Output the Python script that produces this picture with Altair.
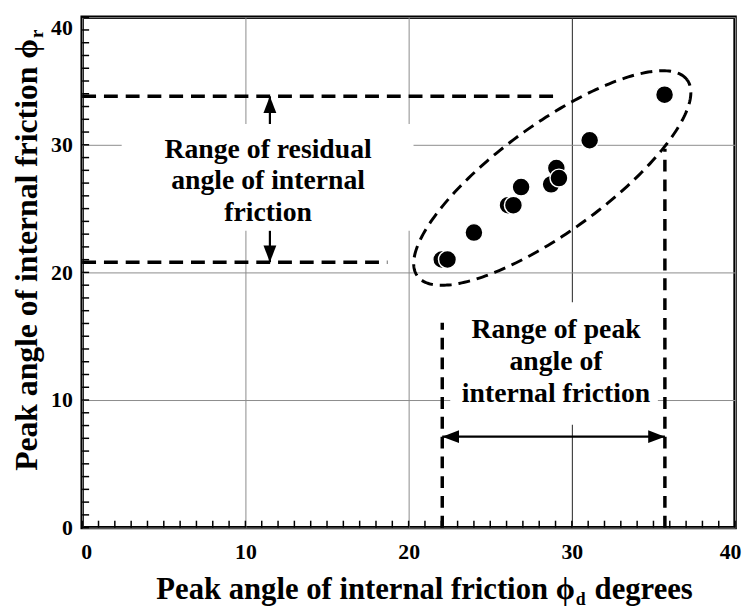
import altair as alt
import pandas as pd
import numpy as np

# ---------------- data ----------------
pt_x = [29.05, 28.73, 29.21, 35.68, 31.09, 26.89, 26.09, 26.42, 24.00, 22.03, 22.38]
pt_y = [28.18, 26.90, 27.39, 33.93, 30.36, 26.69, 25.27, 25.27, 23.12, 21.01, 21.01]

major_ticks = [0, 10, 20, 30, 40]
minor_ticks = list(range(0, 41))

# residual-angle range (horizontal dashed guides)
res_y = [33.8, 20.8]
res_x_end = [29.2, 18.7]
res_arrow_x = 11.5
res_arrow_from = [31.63, 23.26]

# peak-angle range (vertical dashed guides)
peak_x = [22.06, 35.7]
peak_y_end = [16.05, 29.7]
peak_arrow_y = 7.13

# annotation text
res_lines = ["Range of residual", "angle of internal", "friction"]
res_text_x = 11.39
res_text_y = [29.0, 26.51, 24.03]
peak_lines = ["Range of peak", "angle of", "internal friction"]
peak_text_x = 29.03
peak_text_y = [14.88, 12.36, 9.84]

# white boxes behind text (gridline gaps)
box_x1 = [2.42, 22.55]
box_x2 = [20.3, 35.27]
box_y1 = [23.26, 8.06]
box_y2 = [31.63, 17.67]

# ellipse (centre in data units, semi-axes in pixels, tilt in degrees)
ell_cx, ell_cy = 28.8, 27.4
ell_a, ell_b, ell_deg = 168.6, 54.4, 36.0

W, H = 660, 516
XMAX = YMAX = 40
FONT = "Liberation Serif"

xsc = alt.Scale(domain=[0, XMAX], nice=False, zero=False)
ysc = alt.Scale(domain=[0, YMAX], nice=False, zero=False)

px_x = W / XMAX
px_y = H / YMAX
t = np.linspace(0, 2 * np.pi, 241)
th = np.deg2rad(ell_deg)
ex = ell_cx + (ell_a * np.cos(t) * np.cos(th) - ell_b * np.sin(t) * np.sin(th)) / px_x
ey = ell_cy + (ell_a * np.cos(t) * np.sin(th) + ell_b * np.sin(t) * np.cos(th)) / px_y
ell_df = pd.DataFrame({"x": ex, "y": ey, "i": np.arange(len(t))})

grid_color = {"condition": {"test": "datum.value === 30", "value": "#222222"}, "value": "#8c8c8c"}
x_label_offset = {"condition": [{"test": "datum.value === 0", "value": 4},
                                {"test": "datum.value === 40", "value": -5}], "value": 0}
y_label_baseline = {"condition": {"test": "datum.value === 40", "value": "top"}, "value": "middle"}

x_axis = alt.Axis(values=major_ticks, title=None, grid=True, gridColor=grid_color, gridWidth=1,
                  ticks=False, domain=False, labelFont=FONT, labelFontSize=22,
                  labelFontWeight="bold", labelColor="black", labelPadding=14,
                  labelFlush=False, labelOffset=x_label_offset)
y_axis = alt.Axis(values=major_ticks, title=None, grid=True, gridColor="#8c8c8c", gridWidth=1,
                  ticks=False, domain=False, labelFont=FONT, labelFontSize=22,
                  labelFontWeight="bold", labelColor="black", labelPadding=10, labelFlush=False,
                  labelBaseline=y_label_baseline)

def X(f):
    return alt.X(f, scale=xsc, axis=x_axis)

def Y(f):
    return alt.Y(f, scale=ysc, axis=y_axis)

boxes = alt.Chart(pd.DataFrame({"x1": box_x1, "x2": box_x2, "y1": box_y1, "y2": box_y2})).mark_rect(
    fill="white", strokeWidth=0).encode(x=X("x1:Q"), x2="x2:Q", y=Y("y1:Q"), y2="y2:Q")

tick_df = pd.DataFrame({"t": minor_ticks})
xticks = alt.Chart(tick_df).mark_rule(color="black", strokeWidth=1.5).encode(
    x=X("t:Q"), y=alt.value(H), y2=alt.value(H - 7))
yticks = alt.Chart(tick_df).mark_rule(color="black", strokeWidth=1.5).encode(
    y=Y("t:Q"), x=alt.value(0), x2=alt.value(7))

hdash = alt.Chart(pd.DataFrame({"y": res_y, "x1": [0, 0], "x2": res_x_end})).mark_rule(
    color="black", strokeWidth=3.5, strokeDash=[14, 8]).encode(x=X("x1:Q"), x2="x2:Q", y=Y("y:Q"))
vdash = alt.Chart(pd.DataFrame({"x": peak_x, "y1": [0, 0], "y2": peak_y_end})).mark_rule(
    color="black", strokeWidth=3.5, strokeDash=[12, 8]).encode(x=X("x:Q"), y=Y("y1:Q"), y2="y2:Q")

ellipse = alt.Chart(ell_df).mark_line(color="black", strokeWidth=3, strokeDash=[12, 7]).encode(
    x=X("x:Q"), y=Y("y:Q"), order="i:Q")

arrow_v = alt.Chart(pd.DataFrame({"x": [res_arrow_x] * 2, "y1": res_arrow_from, "y2": res_y})).mark_rule(
    color="black", strokeWidth=2.2).encode(x=X("x:Q"), y=Y("y1:Q"), y2="y2:Q")
arrow_h = alt.Chart(pd.DataFrame({"y": [peak_arrow_y], "x1": [peak_x[0]], "x2": [peak_x[1]]})).mark_rule(
    color="black", strokeWidth=2.2).encode(x=X("x1:Q"), x2="x2:Q", y=Y("y:Q"))

UP = "M0,0L-1,2.6L1,2.6Z"
DOWN = "M0,0L-1,-2.6L1,-2.6Z"
LEFT = "M0,0L2.6,-1L2.6,1Z"
RIGHT = "M0,0L-2.6,-1L-2.6,1Z"
heads_df = pd.DataFrame({
    "x": [res_arrow_x, res_arrow_x, peak_x[0], peak_x[1]],
    "y": [res_y[0], res_y[1], peak_arrow_y, peak_arrow_y],
    "path": [UP, DOWN, LEFT, RIGHT],
})
heads = alt.Chart(heads_df).mark_point(filled=True, fill="black", strokeWidth=0, size=169, opacity=1).encode(
    x=X("x:Q"), y=Y("y:Q"), shape=alt.Shape("path:N", scale=None))

points = alt.Chart(pd.DataFrame({"x": pt_x, "y": pt_y})).mark_circle(
    size=330, color="black", stroke="white", strokeWidth=1.5, opacity=1).encode(
    x=X("x:Q"), y=Y("y:Q"))

def text_block(lines, xv, yv):
    df = pd.DataFrame({"t": lines, "x": [xv] * len(lines), "y": yv})
    return alt.Chart(df).mark_text(font=FONT, fontSize=28, fontWeight="bold", color="black",
                                   align="center", baseline="alphabetic").encode(
        x=X("x:Q"), y=Y("y:Q"), text="t:N")

res_text = text_block(res_lines, res_text_x, res_text_y)
peak_text = text_block(peak_lines, peak_text_x, peak_text_y)

def label(txt, xp, yp, size, align, angle=0):
    kw = dict(font=FONT, fontSize=size, fontWeight="bold", color="black", align=align, baseline="alphabetic")
    if angle:
        kw["angle"] = angle
    return alt.Chart(pd.DataFrame({"t": [txt]})).mark_text(**kw).encode(
        x=alt.value(xp), y=alt.value(yp), text="t:N")

xt_main = label("Peak angle of internal friction \u03d5", 498, 588, 31, "right")
xt_sub = label("d", 499, 594, 18, "left")
xt_end = label("degrees", 518, 588, 31, "left")
yt_main = label("Peak angle of internal friction \u03d5", -46, 22, 32, "right", 270)
yt_sub = label("r", -40, 21, 19, "left", 270)

chart = alt.layer(
    boxes, xticks, yticks, hdash, vdash, ellipse, arrow_v, arrow_h, heads, points,
    res_text, peak_text, xt_main, xt_sub, xt_end, yt_main, yt_sub
).properties(
    width=W, height=H,
    autosize=alt.AutoSizeParams(type="none"),
    padding={"left": 75, "top": 6, "right": 7, "bottom": 84},
).configure_view(stroke="black", strokeWidth=3.5)

chart.save("out.html", embed_options={"renderer": "svg", "actions": False})
